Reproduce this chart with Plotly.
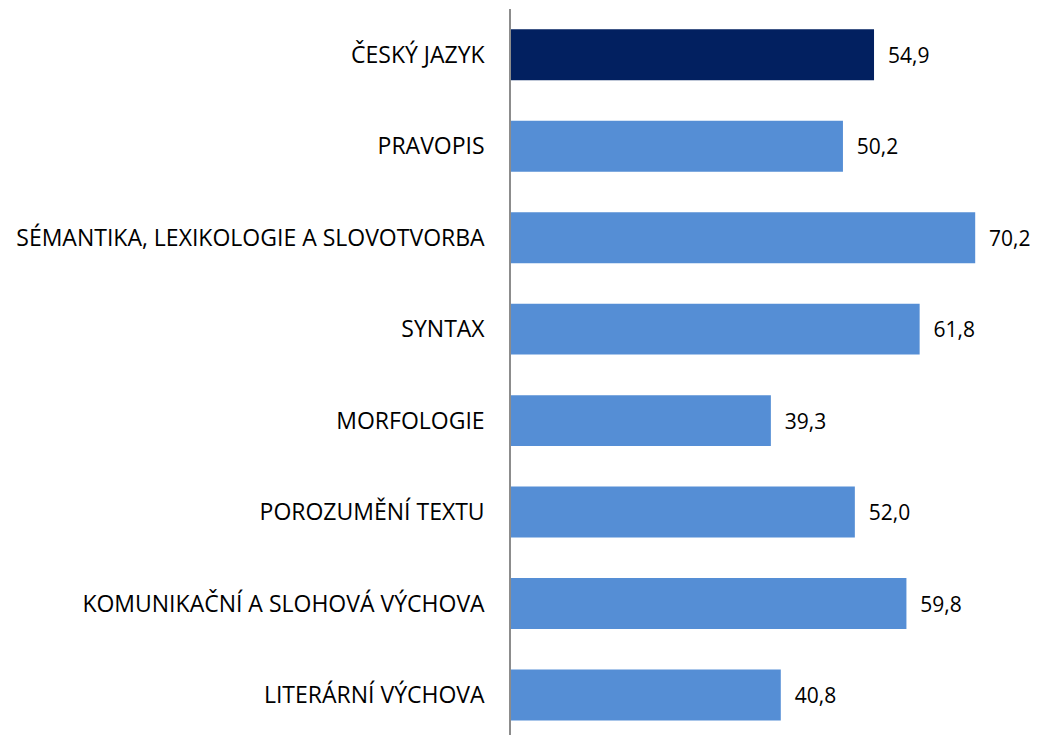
import plotly.graph_objects as go

categories = [
    "ČESKÝ JAZYK",
    "PRAVOPIS",
    "SÉMANTIKA, LEXIKOLOGIE A SLOVOTVORBA",
    "SYNTAX",
    "MORFOLOGIE",
    "POROZUMĚNÍ TEXTU",
    "KOMUNIKAČNÍ A SLOHOVÁ VÝCHOVA",
    "LITERÁRNÍ VÝCHOVA",
]
values = [54.9, 50.2, 70.2, 61.8, 39.3, 52.0, 59.8, 40.8]
colors = ["#022060"] + ["#558ED5"] * 7

fig = go.Figure()
fig.add_trace(go.Bar(
    x=values,
    y=categories,
    orientation="h",
    width=0.557,
    marker=dict(color=colors, line=dict(width=0)),
    texttemplate="\u00a0\u00a0%{x:.1f}",
    textposition="outside",
    cliponaxis=False,
    textfont=dict(family="Open Sans, sans-serif", size=21, color="#000000"),
    hoverinfo="skip",
))

fig.update_layout(
    width=1032,
    height=727,
    margin=dict(l=503, r=0, t=1, b=0, autoexpand=False),
    paper_bgcolor="white",
    plot_bgcolor="white",
    showlegend=False,
    separators=", ",
    font=dict(family="Open Sans, sans-serif", size=21, color="#000000"),
)
fig.update_xaxes(
    range=[0, 80],
    showgrid=False,
    zeroline=False,
    showticklabels=False,
    showline=False,
)
fig.update_yaxes(
    type="category",
    categoryorder="array",
    categoryarray=categories,
    range=[7.437, -0.5],
    showgrid=False,
    zeroline=False,
    showline=True,
    linecolor="#8C8C8C",
    linewidth=1.5,
    ticks="",
    ticklabelstandoff=20,
    automargin=False,
    tickfont=dict(family="Open Sans, sans-serif", size=23, color="#000000"),
)

fig.write_html("out.html")
